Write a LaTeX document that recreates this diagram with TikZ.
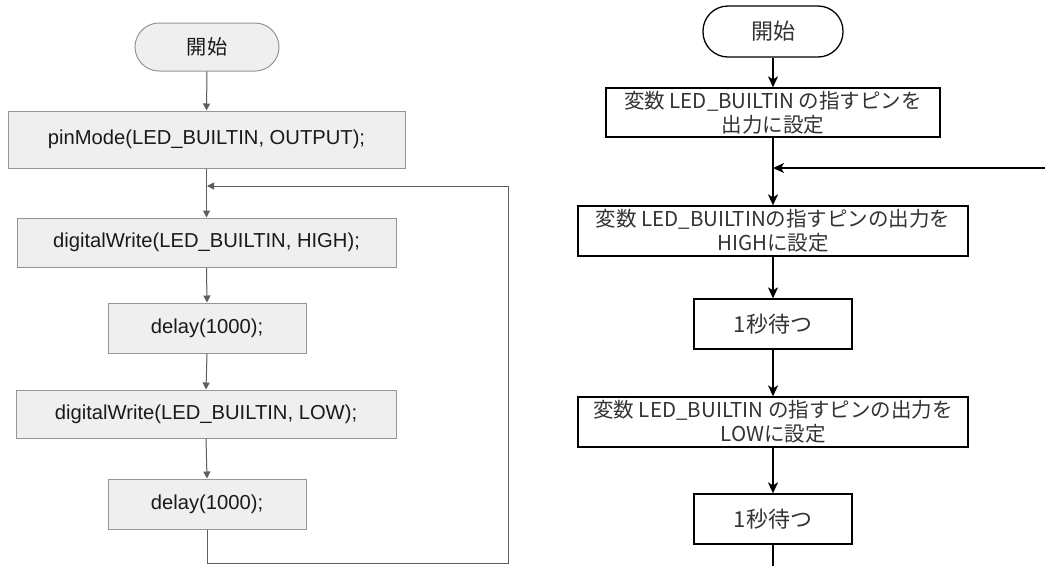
\documentclass[tikz,border=0pt]{standalone}
\usepackage{fontspec}
\setmainfont{Liberation Sans}
\newfontfamily\jp{Noto Sans CJK JP}
\usetikzlibrary{arrows.meta}
\definecolor{lfill}{HTML}{EFEFEF}
\definecolor{lborder}{HTML}{959595}
\definecolor{lline}{HTML}{5E5E5E}
\definecolor{ltext}{HTML}{1A1A1A}
\definecolor{rtext}{HTML}{333333}
\tikzset{
  lbox/.style={draw=lborder, fill=lfill, line width=1pt, inner sep=0pt, text=ltext,
    font=\fontsize{20.2}{24}\selectfont, align=center},
  lterm/.style={lbox, rounded corners=24pt},
  larrow/.style={draw=lline, line width=1pt, -{Triangle[length=7pt,width=7pt]}, fill=lline},
  lline/.style={draw=lline, line width=1pt},
  rbox/.style={draw=black, line width=1.3pt, inner sep=0pt, fill=white, text=rtext,
    font=\jp\fontsize{20.5}{24}\selectfont, align=center},
  rbig/.style={rbox, font=\jp\fontsize{22}{26}\selectfont},
  rterm/.style={rbig, rounded corners=25pt},
  rarrow/.style={draw=black, line width=1.3pt, -{Stealth[length=11pt,width=10pt,inset=3pt]}},
  rline/.style={draw=black, line width=1.3pt}
}
\begin{document}
\begin{tikzpicture}[x=1pt,y=-1pt]
\useasboundingbox (0,0) rectangle (1045,566);
% ---------- left ----------
\node[lterm, minimum width=144pt, minimum height=48pt] (ls) at (207,47) {\jp 開始};
\node[lbox, minimum width=397pt, minimum height=57pt] (lp) at (206.5,139.5) {pinMode(LED\_BUILTIN, OUTPUT);};
\node[lbox, minimum width=379pt, minimum height=49pt] (lh) at (206.5,242.5) {digitalWrite(LED\_BUILTIN, HIGH);};
\node[lbox, minimum width=198pt, minimum height=50pt] (ld1) at (207,328) {delay(1000);};
\node[lbox, minimum width=380pt, minimum height=48pt] (ll) at (206,414) {digitalWrite(LED\_BUILTIN, LOW);};
\node[lbox, minimum width=198pt, minimum height=50pt] (ld2) at (207,504) {delay(1000);};
\coordinate (lj) at (207,186);
\coordinate (lb1) at (207,563);
\coordinate (lb2) at (508,563);
\coordinate (lb3) at (508,186);
\draw[larrow] (ls.south) -- (lp.north);
\draw[larrow] (lp.south) -- (lh.north);
\draw[larrow] (lh.south) -- (ld1.north);
\draw[larrow] (ld1.south) -- (ll.north);
\draw[larrow] (ll.south) -- (ld2.north);
\draw[lline] (ld2.south) -- (lb1) -- (lb2) -- (lb3);
\draw[larrow] (lb3) -- (lj);
% ---------- right ----------
\node[rterm, minimum width=140pt, minimum height=51pt] (rs) at (773,31.5) {開始};
\node[rbox, minimum width=334pt, minimum height=49pt] (r1) at (773,112.5) {変数 LED\_BUILTIN の指すピンを\\出力に設定};
\node[rbox, minimum width=390pt, minimum height=50pt] (r2) at (773,231) {変数 LED\_BUILTINの指すピンの出力を\\HIGHに設定};
\node[rbig, minimum width=158pt, minimum height=50pt] (r3) at (773,324) {1秒待つ};
\node[rbox, minimum width=390pt, minimum height=50pt] (r4) at (773,422) {変数 LED\_BUILTIN の指すピンの出力を\\LOWに設定};
\node[rbig, minimum width=158pt, minimum height=50pt] (r5) at (773,519) {1秒待つ};
\coordinate (rj) at (773,168);
\coordinate (rin) at (1045,168);
\coordinate (rend) at (773,566);
\draw[rarrow] (rs.south) -- (r1.north);
\draw[rarrow] (r1.south) -- (r2.north);
\draw[rarrow] (rin) -- (rj);
\draw[rarrow] (r2.south) -- (r3.north);
\draw[rarrow] (r3.south) -- (r4.north);
\draw[rarrow] (r4.south) -- (r5.north);
\draw[rline] (r5.south) -- (rend);
\end{tikzpicture}
\end{document}
